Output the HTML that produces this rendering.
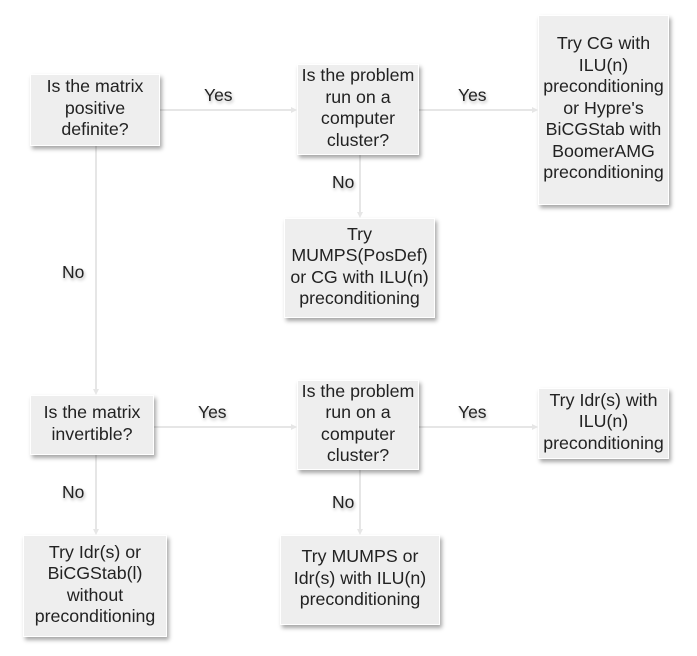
<!DOCTYPE html><html><head><style>
body{margin:0;width:697px;height:656px;background:#fff;position:relative;font-family:"Liberation Sans",sans-serif;overflow:hidden}
.b{position:absolute;background:#eeeeee;border:1px solid #fff;box-shadow:2px 3px 4px rgba(0,0,0,.35);display:flex;align-items:center;justify-content:center;text-align:center;font-size:17.8px;line-height:21.5px;color:#222;box-sizing:border-box;white-space:nowrap;padding-bottom:3px}
.l{position:absolute;font-size:17.5px;color:#222;text-shadow:1px 2px 3px rgba(0,0,0,.3)}
svg{position:absolute;left:0;top:0}
</style></head><body>
<svg width="697" height="656"><g stroke="#e6e6e6" stroke-width="2" fill="none">
<line x1="160" y1="110" x2="294" y2="110"/><line x1="419" y1="110" x2="535" y2="110"/>
<line x1="96" y1="146" x2="96" y2="392"/><line x1="360" y1="155" x2="360" y2="215"/>
<line x1="154" y1="427" x2="294" y2="427"/><line x1="419" y1="427" x2="535" y2="427"/>
<line x1="96" y1="455" x2="96" y2="532"/><line x1="360" y1="470" x2="360" y2="532"/>
</g><g fill="#e6e6e6"><path d="M297 110l-6-3v6z"/><path d="M538 110l-6-3v6z"/><path d="M96 395l-3-6h6z"/><path d="M360 218l-3-6h6z"/><path d="M297 427l-6-3v6z"/><path d="M538 427l-6-3v6z"/><path d="M96 535l-3-6h6z"/><path d="M360 535l-3-6h6z"/></g></svg>
<div class="b" style="left:30px;top:74px;width:130px;height:72px">Is the matrix<br>positive<br>definite?</div>
<div class="b" style="left:297px;top:64px;width:122px;height:91px">Is the problem<br>run on a<br>computer<br>cluster?</div>
<div class="b" style="left:538px;top:15px;width:131px;height:190px">Try CG with<br>ILU(n)<br>preconditioning<br>or Hypre's<br>BiCGStab with<br>BoomerAMG<br>preconditioning</div>
<div class="b" style="left:284px;top:218px;width:151px;height:100px">Try<br>MUMPS(PosDef)<br>or CG with ILU(n)<br>preconditioning</div>
<div class="b" style="left:30px;top:395px;width:124px;height:60px">Is the matrix<br>invertible?</div>
<div class="b" style="left:297px;top:380px;width:122px;height:90px">Is the problem<br>run on a<br>computer<br>cluster?</div>
<div class="b" style="left:538px;top:388px;width:131px;height:71px">Try Idr(s) with<br>ILU(n)<br>preconditioning</div>
<div class="b" style="left:23px;top:535px;width:144px;height:102px">Try Idr(s) or<br>BiCGStab(l)<br>without<br>preconditioning</div>
<div class="b" style="left:280px;top:535px;width:160px;height:90px">Try MUMPS or<br>Idr(s) with ILU(n)<br>preconditioning</div>
<div class="l" style="left:204px;top:85px">Yes</div>
<div class="l" style="left:458px;top:85px">Yes</div>
<div class="l" style="left:332px;top:172px">No</div>
<div class="l" style="left:62px;top:262px">No</div>
<div class="l" style="left:198px;top:402px">Yes</div>
<div class="l" style="left:458px;top:402px">Yes</div>
<div class="l" style="left:62px;top:482px">No</div>
<div class="l" style="left:332px;top:492px">No</div>
</body></html>
